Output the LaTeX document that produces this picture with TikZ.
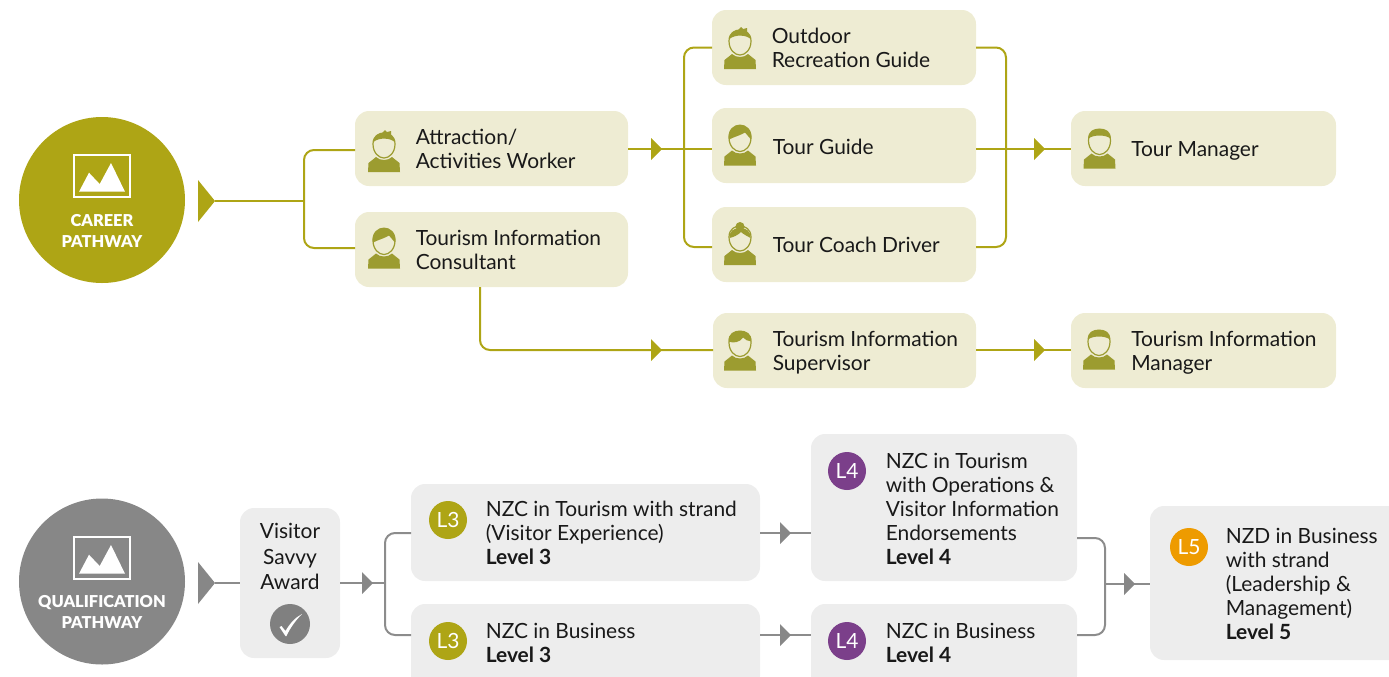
\documentclass[tikz,border=0pt]{standalone}
\usepackage{fontspec}
\setmainfont{Lato}
\newfontfamily\blackfont{Lato Black}
\definecolor{olive}{HTML}{AEA515}
\definecolor{cream}{HTML}{EEECD3}
\definecolor{iconc}{HTML}{9C9C30}
\definecolor{greyc}{HTML}{878787}
\definecolor{greyb}{HTML}{EDEDED}
\definecolor{greyl}{HTML}{8C8C8C}
\definecolor{purp}{HTML}{7B3F8A}
\definecolor{oran}{HTML}{EE9B00}
\newcommand\bx[6]{%
  \pgfmathsetmacro\bxw{(#5-#3)*0.75}%
  \pgfmathsetmacro\bxh{(#6-#4)*0.75}%
  \node[#1,minimum width=\bxw pt,minimum height=\bxh pt] (#2) at ({(#3+#5)/2},{(#4+#6)/2}) {};}
\tikzset{
  x=0.75pt,y=-0.75pt,
  cbox/.style={fill=cream,rounded corners=10.5pt,inner sep=0pt,outer sep=0pt},
  gbox/.style={fill=greyb,rounded corners=10.5pt,inner sep=0pt,outer sep=0pt},
  label/.style={anchor=west,align=left,font=\fontsize{15.7}{18}\selectfont,text=black!90,inner sep=0pt},
  disc/.style={circle,inner sep=0pt,outer sep=0pt,minimum size=124.5pt},
  badge/.style={circle,inner sep=0pt,outer sep=0pt,minimum size=28.5pt,text=white,font=\fontsize{15.7}{18}\selectfont},
  title/.style={align=center,text=white,font=\blackfont\fontsize{12.3}{16}\selectfont,inner sep=0pt},
  oline/.style={draw=olive,line width=1.5pt,rounded corners=7.5pt},
  gline/.style={draw=greyl,line width=1.5pt,rounded corners=7.5pt},
  tiny tri/.pic={\fill[pic actions] (-11,-11) -- (0,0) -- (-11,11) -- cycle;},
  big tri/.pic={\fill[pic actions] (-17,-21) -- (0,0) -- (-17,21) -- cycle;},
  mountain/.pic={
    \draw[white,line width=2pt] (-28,0) rectangle (28,42);
    \fill[white] (-23,36.7) -- (-13,17.7) -- (-2.3,29) -- (9,8) -- (23,36.7) -- cycle;},
  body/.pic={
    \fill[iconc] (-16,42) -- (-15.5,33) -- (-8,27) .. controls (-4,31) and (4,31) .. (8,27) -- (15.5,33) -- (16,42) -- cycle;
    \draw[iconc,line width=0.9pt] (-11,14) .. controls (-11,23) and (-5,28) .. (0,28) .. controls (5,28) and (11,23) .. (11,14) .. controls (11,6) and (5,3) .. (0,3) .. controls (-5,3) and (-11,6) .. (-11,14) -- cycle;},
  spiky/.pic={\pic{body};
    \fill[iconc] (-10.5,12) .. controls (-11,6) and (-6,4) .. (-2,3) -- (1,0) -- (3,2) -- (7,1) -- (7,5) .. controls (10,7) and (11,10) .. (10.5,12) .. controls (7,8) and (-5,7) .. (-10.5,12) -- cycle;},
  swoop/.pic={\pic{body};
    \fill[iconc] (-11,16) .. controls (-13,6) and (-6,1) .. (0,1) .. controls (6,1) and (13,6) .. (11,16) .. controls (9,14) and (7,11) .. (5,9) .. controls (0,12) and (-5,13) .. (-11,16) -- cycle;},
  bun/.pic={\pic{body};
    \fill[iconc] (0,3.5) circle (4.5);
    \fill[iconc] (-10.5,15) .. controls (-11,8) and (-6,5) .. (0,5) .. controls (6,5) and (11,8) .. (10.5,15) .. controls (7,13) and (3,11) .. (1,9) .. controls (-2,12) and (-6,14) .. (-10.5,15) -- cycle;},
  parted/.pic={\pic{body};
    \fill[iconc] (-11.5,13) .. controls (-12,5) and (-6,2) .. (0,2) .. controls (6,2) and (12,5) .. (11.5,13) .. controls (8,13) and (5,11) .. (3,9) .. controls (0,14) and (-7,15) .. (-11.5,13) -- cycle;},
  crop/.pic={\pic{body};
    \fill[iconc] (-11,12) .. controls (-12,5) and (-6,2) .. (0,2) .. controls (6,2) and (12,5) .. (11,12) .. controls (6,8) and (-6,8) .. (-11,12) -- cycle;},
}
\begin{document}
\begin{tikzpicture}
\clip (0,0) rectangle (1389,676);
% career boxes
\bx{cbox}{attr}{355}{111}{628}{186}
\bx{cbox}{cons}{355}{212}{628}{287}
\bx{cbox}{outd}{712}{10}{976}{85}
\bx{cbox}{guide}{712}{108}{976}{183}
\bx{cbox}{coach}{712}{207}{976}{282}
\bx{cbox}{sup}{713}{313}{976}{388}
\bx{cbox}{tmgr}{1071}{111}{1336}{186}
\bx{cbox}{imgr}{1071}{313}{1336}{388}
% qualification boxes
\bx{gbox}{vsa}{240}{508}{340}{658}
\bx{gbox}{tlt}{411}{484}{760}{581}
\bx{gbox}{blt}{411}{604}{760}{690}
\bx{gbox}{tlf}{811}{434}{1077}{581}
\bx{gbox}{blf}{811}{604}{1077}{690}
\bx{gbox}{lfive}{1150}{506}{1410}{660}
% discs
\node[disc,fill=olive] (cp) at (102,200) {};
\node[disc,fill=greyc] (qp) at (102,581.5) {};
\pic at (102,155) {mountain};
\pic at (102,537) {mountain};
\node[title] (cpt) at (102,231) {CAREER\\PATHWAY};
\node[title] (qpt) at (102,612) {QUALIFICATION\\PATHWAY};
% coordinates
\coordinate (cj) at (304,201);
\coordinate (hubl) at (684,149);
\coordinate (hubr) at (1006,149);
\coordinate (low) at (480,350);
\coordinate (qs) at (215,583);
\coordinate (qj) at (385,583);
\coordinate (rj) at (1105,584);
% career connectors
\path[oline] (qs |- cj) coordinate (cs);
\draw[oline] (cs) -- (cj);
\draw[oline] (attr.west |- 0,150) -| (cj) |- (cons.west |- 0,248);
\draw[oline] (attr.east |- hubl) -- (guide.west |- hubl);
\draw[oline] (outd.west) -| (hubl) |- (coach.west |- 0,247);
\draw[oline] (outd.east) -| (hubr) |- (coach.east |- 0,247);
\draw[oline] (guide.east |- hubr) -- (tmgr.west |- hubr);
\draw[oline] (cons.south -| low) |- (sup.west |- low);
\draw[oline] (sup.east |- low) -- (imgr.west |- low);
\pic[fill=olive] at (cs) {big tri};
\pic[fill=olive] at (662,149) {tiny tri};
\pic[fill=olive] at (1045,149) {tiny tri};
\pic[fill=olive] at (662,350) {tiny tri};
\pic[fill=olive] at (1045,350) {tiny tri};
% qualification connectors
\draw[gline] (qs) -- (vsa.west |- qs);
\draw[gline] (vsa.east |- qs) -- (qj);
\draw[gline] (tlt.west |- 0,533) -| (qj) |- (blt.west |- 0,635);
\draw[gline] (tlt.east |- 0,533) -- (tlf.west |- 0,533);
\draw[gline] (blt.east |- 0,635) -- (blf.west |- 0,635);
\draw[gline] (tlf.east |- 0,538) -| (rj) |- (blf.east |- 0,635);
\draw[gline] (rj) -- (lfive.west |- rj);
\pic[fill=greyc] at (qs) {big tri};
\pic[fill=greyc] at (373,583) {tiny tri};
\pic[fill=greyc] at (791,533) {tiny tri};
\pic[fill=greyc] at (791,635) {tiny tri};
\pic[fill=greyc] at (1135,584) {tiny tri};
% person icons
\pic at (384,130) {spiky};
\pic at (384,226.5) {swoop};
\pic at (740,27) {spiky};
\pic at (740,123.5) {swoop};
\pic at (740,223) {bun};
\pic at (740,328.5) {parted};
\pic at (1099.5,126.5) {crop};
\pic at (1099,327.5) {crop};
% labels
\node[label] (l1) at (415.5,149) {Attraction/\\Activities Worker};
\node[label] (l2) at (415.5,250) {Tourism Information\\Consultant};
\node[label] (l3) at (771.5,48) {Outdoor\\Recreation Guide};
\node[label] (l4) at (772.5,147) {Tour Guide};
\node[label] (l5) at (772.5,245) {Tour Coach Driver};
\node[label] (l6) at (772.5,353) {Tourism Information\\Supervisor};
\node[label] (l7) at (1131,151) {Tour Manager};
\node[label] (l8) at (1131,353) {Tourism Information\\Manager};
\node[label,anchor=north,align=center,font=\fontsize{15.7}{19.1}\selectfont] (l9) at (290,523) {Visitor\\Savvy\\Award};
\node[label] (l10) at (485.5,533) {NZC in Tourism with strand\\(Visitor Experience)\\\textbf{Level 3}};
\node[label] (l11) at (485.5,643) {NZC in Business\\\textbf{Level 3}};
\node[label] (l12) at (885.5,509) {NZC in Tourism\\with Operations \&\\Visitor Information\\Endorsements\\\textbf{Level 4}};
\node[label] (l13) at (885.5,643) {NZC in Business\\\textbf{Level 4}};
\node[label] (l14) at (1225.5,584) {NZD in Business\\with strand\\(Leadership \&\\Management)\\\textbf{Level 5}};
% badges
\node[badge,fill=olive] (b1) at (448,520) {L3};
\node[badge,fill=olive] (b2) at (448,641) {L3};
\node[badge,fill=purp] (b3) at (847,471) {L4};
\node[badge,fill=purp] (b4) at (847,641) {L4};
\node[badge,fill=oran] (b5) at (1189,547) {L5};
\node[circle,fill=greyc!95!black,inner sep=0pt,minimum size=30pt] (chk) at (290,624) {};
\fill[white] (279.5,627) -- (281.5,626) -- (285.5,631) .. controls (290,623) and (296,617) .. (302,614) .. controls (296,620) and (290,628) .. (286.5,636) -- (285.5,636) -- cycle;
\end{tikzpicture}
\end{document}
